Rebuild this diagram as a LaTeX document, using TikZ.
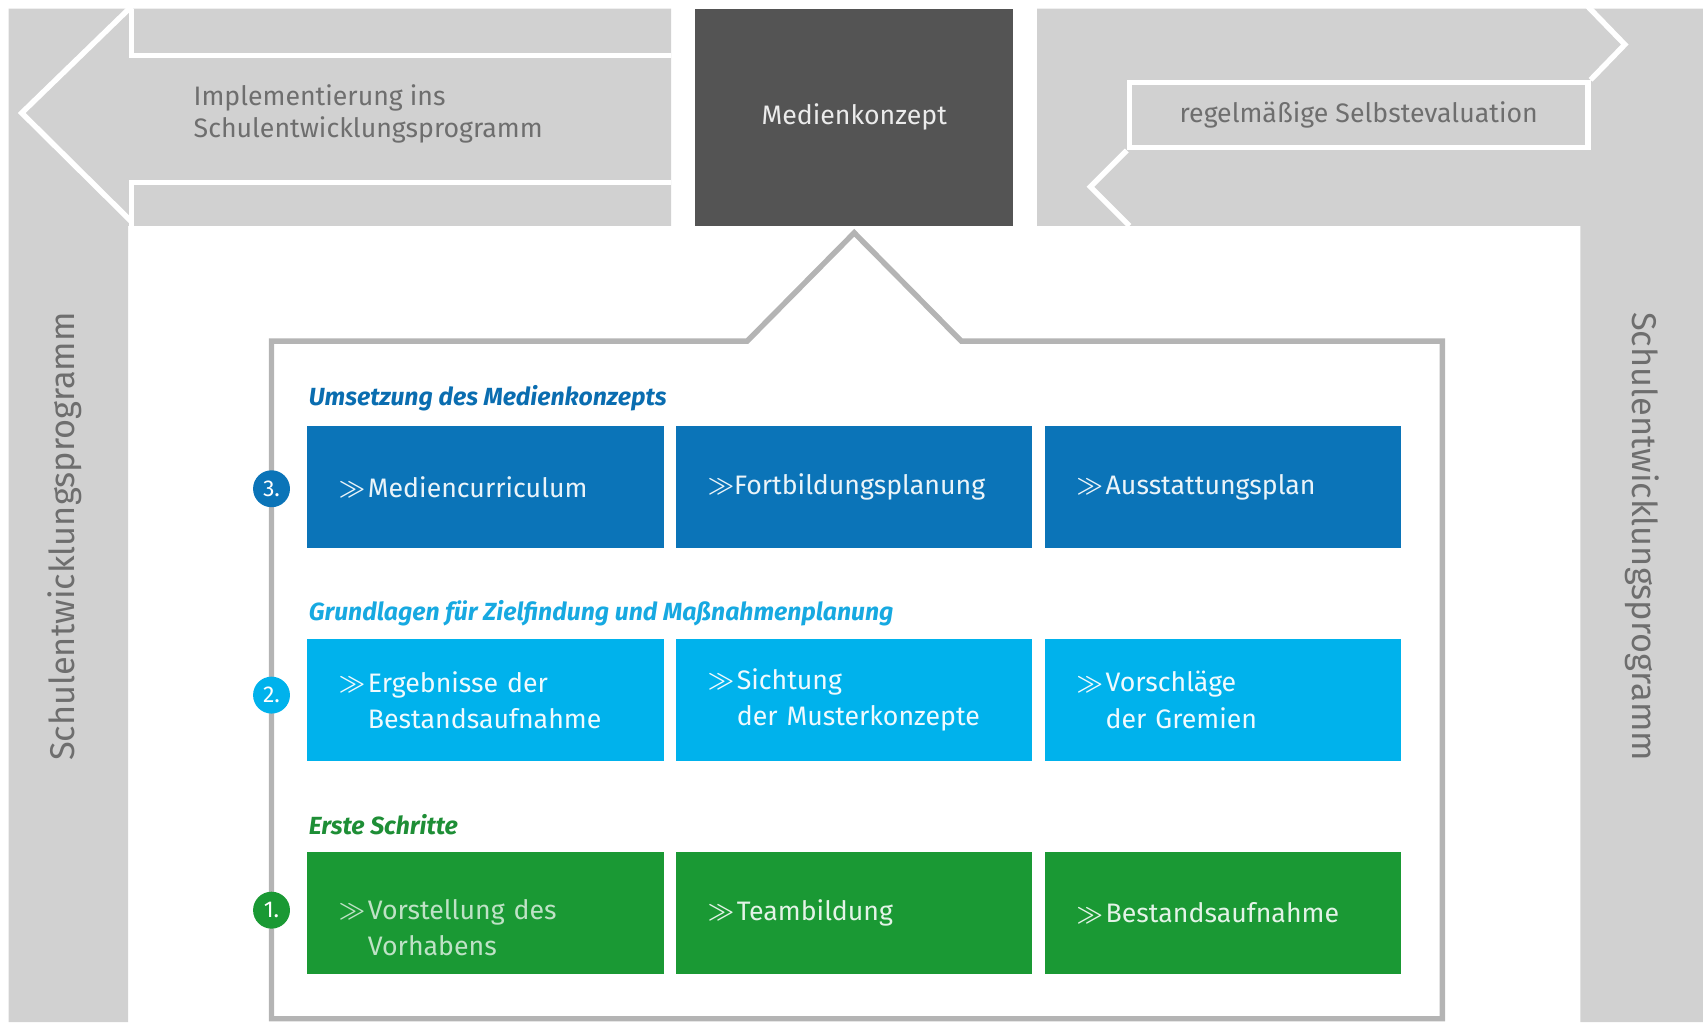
\documentclass[tikz,border=0pt]{standalone}
\usepackage{fontspec}
\setmainfont{Fira Sans}
\usepackage{tikz}
\usetikzlibrary{positioning}

\definecolor{bandgray}{HTML}{D1D1D1}
\definecolor{konzeptgray}{HTML}{545454}
\definecolor{labelgray}{HTML}{6E6E6E}
\definecolor{framegray}{HTML}{B4B4B4}
\definecolor{rowblue}{HTML}{0B74B8}
\definecolor{rowcyan}{HTML}{00B2EC}
\definecolor{rowgreen}{HTML}{1A9934}
\definecolor{headblue}{HTML}{0A6DB0}
\definecolor{headcyan}{HTML}{17A9E1}
\definecolor{headgreen}{HTML}{1E8E36}

% double chevron in front of each step
\newcommand{\chev}{\raisebox{0.9pt}{\fontsize{12.5}{12}\selectfont\boldmath$\gg$}}
\newcommand{\mk}{\chev\hspace{0.1em}}

\begin{document}
\begin{tikzpicture}[x=0.02cm, y=-0.02cm,
  every node/.style={font=\fontsize{14}{19}\selectfont},
  cell/.style={minimum width=6.56cm, minimum height=2.26cm, text width=5.4cm, inner xsep=0.58cm, align=left},
  head/.style={anchor=west, inner sep=0pt, font=\fontsize{13}{16}\selectfont\bfseries\itshape},
  num/.style={circle, minimum size=0.68cm, inner sep=0pt, text=white, font=\fontsize{12}{12}\selectfont},
  whiteline/.style={white, line width=0.1cm}]
  \useasboundingbox (0,0) rectangle (1568,941);

  % gray bands round the page
  \fill[bandgray] (8,8) -- (618,8) -- (618,208) -- (118,208) -- (118,941) -- (8,941) -- cycle;
  \fill[bandgray] (955,8) -- (1568,8) -- (1568,941) -- (1455,941) -- (1455,208) -- (955,208) -- cycle;

  % left arrow
  \draw[whiteline] (618,51) -- (121,51) -- (121,8);
  \draw[whiteline] (618,168) -- (121,168) -- (121,208);
  \draw[whiteline] (121,6) -- (20,104) -- (121,204);
  \node[anchor=west, align=left, text=labelgray, inner sep=0pt, font=\fontsize{14}{17}\selectfont] (impl) at (178,105) {Implementierung ins\\Schulentwicklungsprogramm};

  % right arrows
  \node[draw=white, line width=0.1cm, minimum width=8.44cm, minimum height=1.2cm, text=labelgray] (eval) at (1251,106) {regelmäßige Selbstevaluation};
  \draw[whiteline] (1462,6) -- (1496,41) -- (eval.north east);
  \draw[whiteline] (eval.south west) -- (1004,172) -- (1040,208);

  \node[fill=konzeptgray, minimum width=5.86cm, minimum height=4cm, text=white!92!black] (konzept) at (786.5,108) {Medienkonzept};

  \node[rotate=90, text=labelgray, font=\fontsize{18}{18}\selectfont] (sepl) at (60,494) {Schulentwicklungsprogramm};
  \node[rotate=-90, text=labelgray, font=\fontsize{18}{18}\selectfont] (sepr) at (1512,494) {Schulentwicklungsprogramm};

  % frame below the concept
  \draw[framegray, line width=0.1cm] (688,314) -- ([yshift=-0.12cm]konzept.south) -- (885,314) -- (1328,314) -- (1328,938) -- (250,938) -- (250,314) -- cycle;

  \node[head, text=headblue] (h3) at (284,367) {Umsetzung des Medienkonzepts};
  \node[head, text=headcyan] (h2) at (284,565) {Grundlagen für Zielfindung und Maßnahmenplanung};
  \node[head, text=headgreen] (h1) at (284,759) {Erste Schritte};

  \node[cell, fill=rowblue, text=white!92!rowblue] (curr) at (447,448.5) {\mk Mediencurriculum};
  \node[cell, fill=rowblue, text=white!92!rowblue, right=0.22cm of curr] (fortb) {\chev Fortbildungsplanung};
  \node[cell, fill=rowblue, text=white!92!rowblue, right=0.22cm of fortb] (ausst) {\mk Ausstattungsplan};

  \node[cell, fill=rowcyan, text=white!94!rowcyan] (ergeb) at (447,644.5) {\mk Ergebnisse der\\\phantom{\mk}Bestandsaufnahme};
  \node[cell, fill=rowcyan, text=white!94!rowcyan, right=0.22cm of ergeb] (sicht) {\mk Sichtung\\\phantom{\mk}der Musterkonzepte};
  \node[cell, fill=rowcyan, text=white!94!rowcyan, right=0.22cm of sicht] (vorsch) {\mk Vorschläge\\\phantom{\mk}der Gremien};

  \node[cell, fill=rowgreen, text=white!72!rowgreen] (vorst) at (447,840.5) {\rule{0pt}{26pt}\mk Vorstellung des\\\phantom{\mk}Vorhabens};
  \node[cell, fill=rowgreen, text=white!88!rowgreen, right=0.22cm of vorst] (team) {\mk Teambildung};
  \node[cell, fill=rowgreen, text=white!88!rowgreen, right=0.22cm of team] (bestand) {\mk Bestandsaufnahme};

  \node[num, fill=rowblue] (n3) at (250,450) {3.};
  \node[num, fill=rowcyan] (n2) at (250,640) {2.};
  \node[num, fill=rowgreen] (n1) at (250,838) {1.};
\end{tikzpicture}
\end{document}
